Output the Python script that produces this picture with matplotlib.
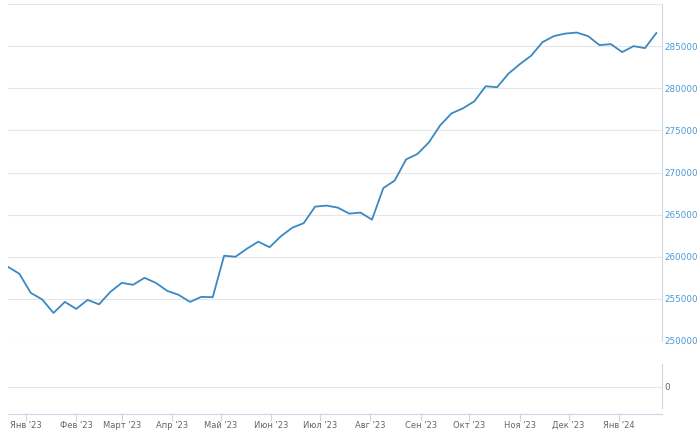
import datetime as dt
import matplotlib
matplotlib.use('Agg')
import matplotlib.pyplot as plt
import matplotlib.dates as mdates

# weekly values
start = dt.date(2022, 12, 21)
values = [258800, 257980, 255710, 254940, 253330, 254640, 253810, 254880, 254350, 255830,
          256900, 256670, 257500, 256900, 255950, 255480, 254640, 255240, 255200, 260120,
          260000, 260950, 261790, 261130, 262440, 263450, 263990, 265950, 266070, 265830,
          265120, 265240, 264400, 268150, 269050, 271550, 272200, 273570, 275600, 277020,
          277620, 278450, 280240, 280120, 281730, 282860, 283870, 285480, 286190, 286490,
          286610, 286190, 285120, 285240, 284290, 285000, 284760, 286550]
dates = [start + dt.timedelta(weeks=i) for i in range(len(values))]

month_ticks = [dt.date(2023, m, 1) for m in range(1, 13)] + [dt.date(2024, 1, 1)]
month_labels = ["Янв '23", "Фев '23", "Март '23", "Апр '23", "Май '23", "Июн '23",
                "Июл '23", "Авг '23", "Сен '23", "Окт '23", "Ноя '23", "Дек '23", "Янв '24"]
y_ticks = [250000, 255000, 260000, 265000, 270000, 275000, 280000, 285000, 290000]
y_labels = [str(v) for v in y_ticks[:-1]] + ['']

W, H = 700, 432
fig = plt.figure(figsize=(W / 100, H / 100), dpi=100)

def box(x0, y0, x1, y1):
    return [x0 / W, 1 - y1 / H, (x1 - x0) / W, (y1 - y0) / H]

grid_c = '#e6e6e6'
axis_c = '#ccd6eb'
x0 = mdates.date2num(start)
xlim = (x0, x0 + 402.5)

ax = fig.add_axes(box(8, 4, 662, 341))
ax.plot(dates, values, color='#3a89c2', lw=1.3, solid_joinstyle='round')
ax.set_xlim(xlim)
ax.set_ylim(250000, 290000)
ax.set_yticks(y_ticks)
ax.set_yticklabels(y_labels)
ax.yaxis.tick_right()
ax.tick_params(axis='y', length=0, pad=2, labelsize=6.3, labelcolor='#4a9ad4')
ax.set_xticks([])
ax.grid(axis='y', color=grid_c, lw=0.8)
for s in ['top', 'left', 'bottom']:
    ax.spines[s].set_visible(False)
ax.spines['right'].set_color(axis_c)
ax.spines['right'].set_linewidth(0.8)

ax2 = fig.add_axes(box(8, 364, 662, 414))
ax2.set_xlim(xlim)
ax2.set_ylim(-27, 23)
ax2.set_yticks([0])
ax2.yaxis.tick_right()
ax2.tick_params(axis='y', length=0, pad=2, labelsize=6.3, labelcolor='#666666')
ax2.grid(axis='y', color=grid_c, lw=0.8)
ax2.set_xticks(month_ticks)
ax2.set_xticklabels(month_labels)
ax2.tick_params(axis='x', length=5, width=0.8, color=axis_c, pad=0,
                labelsize=6, labelcolor='#666666')
for s in ['top', 'left']:
    ax2.spines[s].set_visible(False)
ax2.spines['right'].set_bounds(-21, 23)
for s in ['right', 'bottom']:
    ax2.spines[s].set_color(axis_c)
    ax2.spines[s].set_linewidth(0.8)

fig.savefig('out.png', dpi=100)
